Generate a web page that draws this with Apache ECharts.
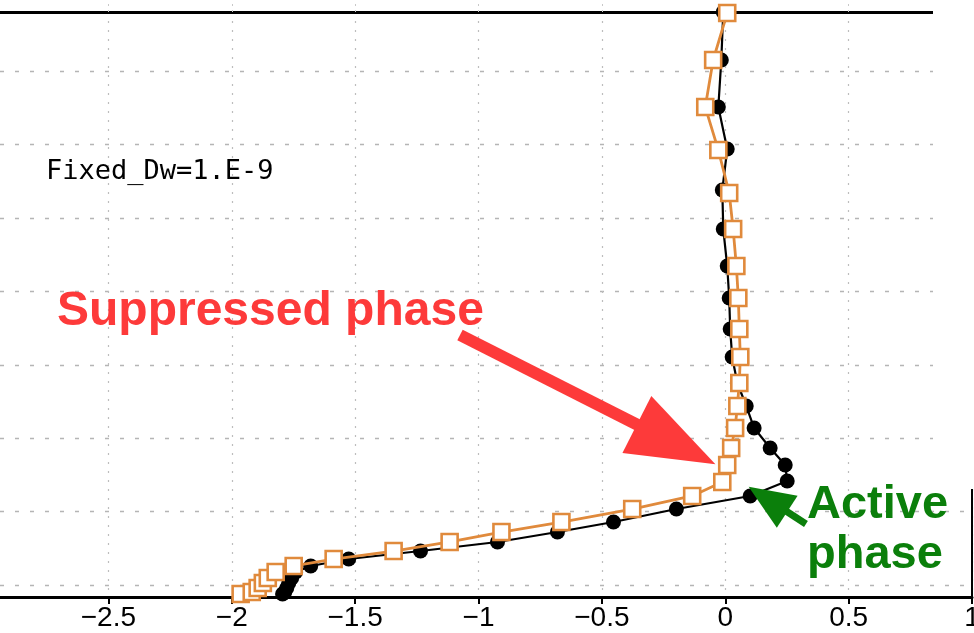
<!DOCTYPE html>
<html><head><meta charset="utf-8">
<script src="https://cdn.jsdelivr.net/npm/echarts@6/dist/echarts.min.js"></script>
<style>html,body{margin:0;padding:0;background:#fff}#c{width:974px;height:633px}</style>
</head><body><div id="c"></div>
<script>
// Suppressed phase (orange open squares)
const suppressedX = [-1.964,-1.919,-1.895,-1.874,-1.854,-1.822,-1.749,-1.587,-1.344,-1.117,-0.907,-0.664,-0.377,-0.134,-0.012,0.008,0.024,0.040,0.049,0.057,0.061,0.057,0.053,0.045,0.032,0.016,-0.028,-0.081,-0.049,0.008];
const suppressedY = [-0.123,-0.095,-0.041,0.027,0.095,0.177,0.259,0.354,0.463,0.586,0.722,0.858,1.035,1.213,1.403,1.635,1.866,2.139,2.439,2.752,3.106,3.488,3.910,4.346,4.850,5.341,5.926,6.512,7.153,7.793];
// Active phase (black filled circles)
const activeX = [-1.794,-1.785,-1.777,-1.769,-1.757,-1.741,-1.680,-1.526,-1.235,-0.923,-0.680,-0.453,-0.198,0.101,0.251,0.243,0.182,0.117,0.085,0.049,0.028,0.020,0.016,0.008,-0.008,-0.012,0.008,-0.028,-0.016,-0.008];
const activeY = [-0.123,-0.095,-0.041,0.027,0.095,0.177,0.259,0.354,0.463,0.586,0.722,0.858,1.035,1.213,1.417,1.635,1.866,2.139,2.439,2.752,3.106,3.488,3.910,4.346,4.850,5.381,5.940,6.512,7.153,7.807];
// axis extents
const xMin = -3, xMax = 1, xStep = 0.5;
const yMin = -0.1635, yMax = 7.807;
// annotation arrows (data coordinates: [tail, head])
const redArrow = [[-1.075, 3.406], [-0.199, 1.916]];
const greenArrow = [[0.327, 0.831], [0.173, 1.169]];
const annoText = 'Fixed_Dw=1.E-9';

const pair = (xs, ys) => xs.map((x, i) => [x, ys[i]]);
const chart = echarts.init(document.getElementById('c'));
const ORANGE = '#e08a3c';
chart.setOption({
  animation: false,
  backgroundColor: '#fff',
  grid: {left: -15, right: 2, top: 12, bottom: 36, containLabel: false, outerBoundsMode: 'none'},
  xAxis: [{
    type: 'value', min: xMin, max: xMax, interval: xStep, position: 'bottom',
    axisLine: {show: true, onZero: false, lineStyle: {color: '#000', width: 3}},
    axisTick: {show: true, length: 7, lineStyle: {color: '#000', width: 2}},
    axisLabel: {show: true, showMinLabel: true, showMaxLabel: true, margin: 7,
      fontFamily: 'Liberation Sans', fontSize: 28, color: '#000',
      formatter: v => String(v).replace('-', '\u2212')},
    splitLine: {show: true, lineStyle: {color: '#bdbdbd', width: 1.2, type: [2, 7]}}
  }, {
    type: 'value', min: xMin, max: xMax, interval: xStep, position: 'top',
    axisLine: {show: true, onZero: false, lineStyle: {color: '#000', width: 3}},
    axisTick: {show: true, length: 12, lineStyle: {color: '#c8c8c8', width: 1, type: [2, 4]}},
    axisLabel: {show: false}, splitLine: {show: false}
  }],
  yAxis: {
    type: 'value', min: yMin, max: yMax, splitNumber: 8, position: 'right',
    axisLine: {show: true, onZero: false, lineStyle: {color: '#000', width: 2}},
    axisTick: {show: false}, axisLabel: {show: false},
    splitLine: {show: true, lineStyle: {color: '#b5b5b5', width: 1.4, type: [4, 11]}}
  },
  series: [{
    name: 'Active', type: 'line', data: pair(activeX, activeY),
    symbol: 'circle', symbolSize: 15, showAllSymbol: true,
    itemStyle: {color: '#000'}, lineStyle: {color: '#000', width: 2.2}, z: 3
  }, {
    name: 'Suppressed', type: 'line', data: pair(suppressedX, suppressedY),
    symbol: 'rect', symbolSize: 16, showAllSymbol: true,
    itemStyle: {color: '#fff', borderColor: ORANGE, borderWidth: 2.6},
    lineStyle: {color: ORANGE, width: 2.8}, z: 4,
    markLine: {
      silent: true, animation: false, label: {show: false},
      data: [
        [{coord: redArrow[0], symbol: 'none', lineStyle: {color: '#fd3a3a', width: 12, type: 'solid'}},
         {coord: redArrow[1], symbol: 'triangle', symbolSize: [64, 88]}],
        [{coord: greenArrow[0], symbol: 'none', lineStyle: {color: '#0b7f0b', width: 7, type: 'solid'}},
         {coord: greenArrow[1], symbol: 'triangle', symbolSize: [38, 46]}]
      ]
    }
  }],
  graphic: [
    {type: 'rect', z: 100, shape: {x: 933, y: 0, width: 41, height: 489}, style: {fill: '#fff'}},
    {type: 'text', z: 101, x: 46, y: 172, style: {text: annoText, fontFamily: 'DejaVu Sans Mono', fontSize: 27, fill: '#000', textVerticalAlign: 'middle'}},
    {type: 'text', z: 101, x: 57, y: 312, style: {text: 'Suppressed phase', fontFamily: 'Liberation Sans', fontWeight: 'bold', fontSize: 48, fill: '#fd3a3a', textVerticalAlign: 'middle'}},
    {type: 'text', z: 101, x: 807, y: 530, style: {text: 'Active\nphase', fontFamily: 'Liberation Sans', fontWeight: 'bold', fontSize: 47, lineHeight: 50, fill: '#0b7f0b', textVerticalAlign: 'middle'}}
  ]
});
</script></body></html>
